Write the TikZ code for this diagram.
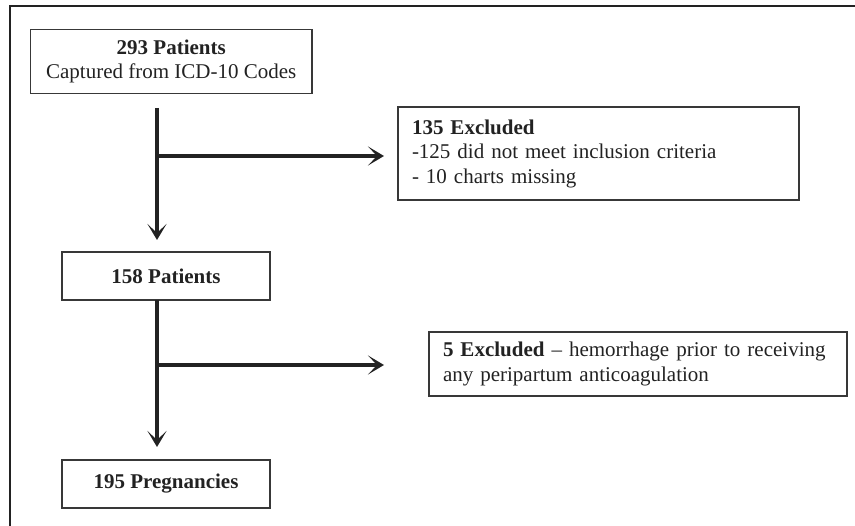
\documentclass[tikz,border=0pt]{standalone}
\usepackage{fontspec}
\setmainfont{Liberation Serif}
\usetikzlibrary{arrows.meta}
\definecolor{ink}{HTML}{222222}
\tikzset{
  x=1pt, y=-1pt,
  box/.style={draw=ink!90, line width=1.4pt, text=ink, inner sep=0pt, font=\fontsize{21}{24.5}\selectfont},
  flow/.style={draw=ink, line width=3.6pt, -{Stealth[length=16pt,width=19pt,inset=9pt]}},
}
\begin{document}
\begin{tikzpicture}
\useasboundingbox (0,0) rectangle (855,526);
% frame (top and left only)
\draw[ink, line width=2pt] (9.5,526) -- (9.5,6) -- (855,6);

\node[box, minimum width=281.5pt, minimum height=64pt, align=center] (b1) at (171.25,61.5)
  {\textbf{293 Patients}\\Captured from ICD-10 Codes};
\node[box, minimum width=401pt, minimum height=93pt, text width=373pt, align=left] (b2) at (598.5,153.5)
  {\textbf{135 Excluded}\\-125 did not meet inclusion criteria\\- 10 charts missing};
\node[box, minimum width=208pt, minimum height=48pt] (b3) at (166,276) {\textbf{158 Patients}};
\node[box, minimum width=418pt, minimum height=64pt, text width=390pt, align=left] (b4) at (638,364)
  {\mbox{\textbf{5 Excluded} -- hemorrhage prior to receiving}\\any peripartum anticoagulation};
\node[box, minimum width=208pt, minimum height=48pt] (b5) at (166,484) {\textbf{195 Pregnancies}};

\coordinate (s1) at (157,108);
\coordinate (e1) at (157,240);
\coordinate (j1) at (157,156);
\coordinate (h1) at (384,156);
\coordinate (s2) at (157,300);
\coordinate (e2) at (157,447);
\coordinate (j2) at (157,365);
\coordinate (h2) at (384,365);

\draw[flow] (s1) -- (e1);
\draw[flow] ([xshift=-1.8pt]j1) -- (h1);
\draw[flow] (s2) -- (e2);
\draw[flow] ([xshift=-1.8pt]j2) -- (h2);
\end{tikzpicture}
\end{document}
